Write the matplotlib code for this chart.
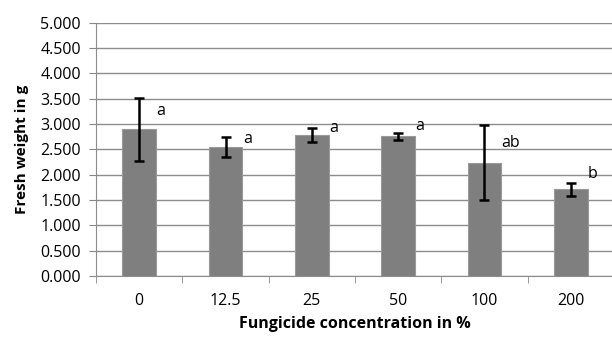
import matplotlib
matplotlib.use("Agg")
import matplotlib.pyplot as plt
import numpy as np

plt.rcParams['font.family'] = ['Open Sans', 'DejaVu Sans']

concentrations = ["0", "12.5", "25", "50", "100", "200"]
fresh_weight = [2.90, 2.55, 2.79, 2.76, 2.24, 1.71]
errors = [0.62, 0.20, 0.14, 0.07, 0.74, 0.13]
letters = ["a", "a", "a", "a", "ab", "b"]
letter_y = [3.26, 2.70, 2.92, 2.96, 2.63, 2.01]

fig = plt.figure(figsize=(6.12, 3.38), dpi=100)
ax = fig.add_axes([0.157, 0.1834, 0.846, 0.7494])

x = np.arange(len(concentrations))
ax.bar(x, fresh_weight, width=0.39, color="#7f7f7f", edgecolor="#9a9a9a", linewidth=0.8, zorder=3)
ax.errorbar(x, fresh_weight, yerr=errors, fmt="none", ecolor="black",
            elinewidth=1.8, capsize=3.5, capthick=1.8, zorder=4)

for xi, lab, ly in zip(x, letters, letter_y):
    ax.text(xi + 0.2, ly, lab, ha="left", va="center", fontsize=11.5, color="black")

ax.set_xlim(-0.5, len(concentrations) - 0.5)
ax.set_ylim(0, 5)
ax.set_yticks(np.arange(0, 5.01, 0.5))
ax.set_yticklabels(["%.3f" % v for v in np.arange(0, 5.01, 0.5)], fontsize=11.5)
ax.set_xticks(x)
ax.set_xticklabels(concentrations, fontsize=11.5)
ax.set_xticks(np.arange(-0.5, len(concentrations), 1), minor=True)
ax.tick_params(axis="x", which="major", length=0, pad=12)
ax.tick_params(axis="x", which="minor", length=5, color="#888888", direction="out")
ax.tick_params(axis="y", length=5, color="#888888", pad=6)

ax.grid(axis="y", color="#8c8c8c", linewidth=1.0, zorder=0)
ax.set_axisbelow(True)
for s in ["top", "right"]:
    ax.spines[s].set_visible(False)
ax.spines["left"].set_color("#8c8c8c")
ax.spines["bottom"].set_color("#8c8c8c")

ax.set_ylabel("Fresh weight in g", fontsize=11, fontweight="bold", labelpad=8)
ax.set_xlabel("Fungicide concentration in %", fontsize=11.5, fontweight="bold", labelpad=5)

fig.savefig("out.png", dpi=100)
